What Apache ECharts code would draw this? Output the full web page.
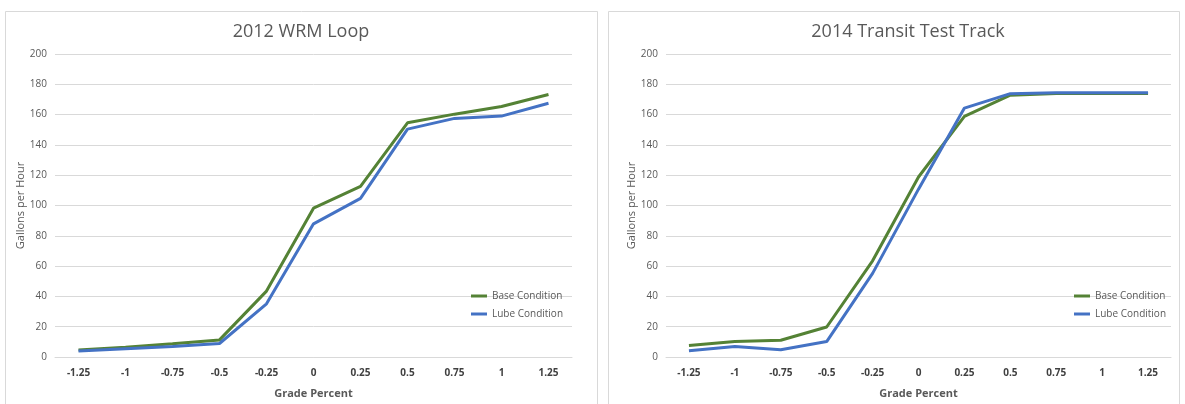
<!DOCTYPE html>
<html><head><meta charset="utf-8">
<script src="https://cdn.jsdelivr.net/npm/echarts@6/dist/echarts.min.js"></script>
<style>html,body{margin:0;padding:0;background:#fff}#c{width:1185px;height:404px}</style>
</head><body><div id="c"></div>
<script>
const categories = ['-1.25','-1','-0.75','-0.5','-0.25','0','0.25','0.5','0.75','1','1.25'];
const wrmBase = [4.6, 6.5, 8.8, 11.3, 43.5, 98.2, 112.6, 154.6, 160.3, 165.3, 173.3];
const wrmLube = [4.0, 5.5, 7.0, 8.9, 35.1, 87.9, 104.7, 150.4, 157.5, 159.0, 167.5];
const ttBase = [7.6, 10.2, 11.1, 19.8, 63.5, 118.8, 158.8, 172.8, 174.0, 174.0, 174.0];
const ttLube = [4.1, 7.0, 4.8, 10.2, 55.2, 110.8, 164.3, 173.8, 174.4, 174.4, 174.4];
const titles = ['2012 WRM Loop', '2014 Transit Test Track'];
const seriesNames = ['Base Condition', 'Lube Condition'];
const yName = 'Gallons per Hour';
const xName = 'Grade Percent';

const FONT = 'Open Sans, Liberation Sans, sans-serif';
const green = '#548235', blue = '#4472C4';
const grids = [{left: 55, top: 54, width: 517, height: 306}, {left: 666, top: 54, width: 505, height: 306}];
const xAxes = grids.map((g, i) => ({
  type: 'category', gridIndex: i, data: categories, boundaryGap: true,
  axisLine: {lineStyle: {color: '#d9d9d9', width: 1}}, axisTick: {show: false},
  axisLabel: {color: '#404040', fontWeight: 'bold', fontSize: 10, fontFamily: FONT, margin: 11},
  name: xName, nameLocation: 'middle', nameGap: 31,
  nameTextStyle: {color: '#595959', fontWeight: 'bold', fontSize: 11, fontFamily: FONT}
}));
const yAxes = grids.map((g, i) => ({
  type: 'value', gridIndex: i, min: 0, max: 200, interval: 20,
  axisLine: {show: false}, axisTick: {show: false},
  splitLine: {lineStyle: {color: '#d9d9d9', width: 1}},
  axisLabel: {color: '#595959', fontSize: 10, fontFamily: FONT, margin: 8},
  name: yName, nameLocation: 'middle', nameGap: 24,
  nameTextStyle: {color: '#595959', fontSize: 11, fontFamily: FONT}
}));
function line(name, data, idx, color) {
  return {type: 'line', name, data, xAxisIndex: idx, yAxisIndex: idx, showSymbol: false, symbol: 'none',
    lineStyle: {color, width: 3}, itemStyle: {color}, animation: false};
}
const chart = echarts.init(document.getElementById('c'), null, {renderer: 'canvas'});
chart.setOption({
  animation: false,
  backgroundColor: '#fff',
  title: [
    {text: titles[0], left: 296, top: 18, textAlign: 'center', textStyle: {color: '#595959', fontSize: 18, fontWeight: 'normal', fontFamily: FONT}},
    {text: titles[1], left: 903, top: 18, textAlign: 'center', textStyle: {color: '#595959', fontSize: 18, fontWeight: 'normal', fontFamily: FONT}}
  ],
  legend: [
    {data: seriesNames, left: 466, top: 286, orient: 'vertical', icon: 'rect', itemWidth: 16, itemHeight: 3, itemGap: 8,
      textStyle: {color: '#595959', fontSize: 10, fontFamily: FONT}},
    {data: seriesNames, left: 1069, top: 286, orient: 'vertical', icon: 'rect', itemWidth: 16, itemHeight: 3, itemGap: 8,
      textStyle: {color: '#595959', fontSize: 10, fontFamily: FONT}}
  ],
  graphic: [
    {type: 'rect', shape: {x: 5.5, y: 11.5, width: 592, height: 400}, style: {fill: 'none', stroke: '#d9d9d9', lineWidth: 1}, z: -1},
    {type: 'rect', shape: {x: 608.5, y: 11.5, width: 571, height: 400}, style: {fill: 'none', stroke: '#d9d9d9', lineWidth: 1}, z: -1}
  ],
  grid: grids,
  xAxis: xAxes,
  yAxis: yAxes,
  series: [
    line(seriesNames[0], wrmBase, 0, green),
    line(seriesNames[1], wrmLube, 0, blue),
    line(seriesNames[0], ttBase, 1, green),
    line(seriesNames[1], ttLube, 1, blue)
  ]
});
</script></body></html>
